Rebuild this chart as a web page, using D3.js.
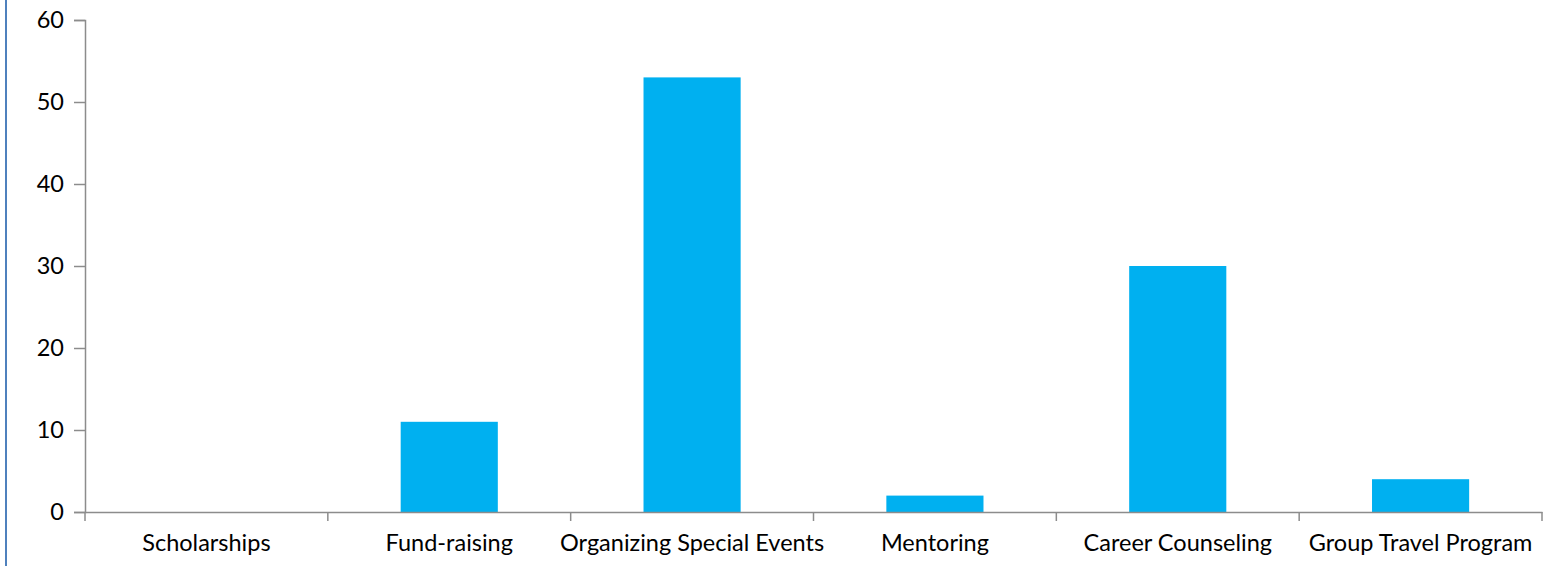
<!DOCTYPE html>
<html><head><meta charset="utf-8">
<script src="https://cdn.jsdelivr.net/npm/d3@7"></script>
<style>body{margin:0;background:#fff;}svg{display:block;font-family:Lato,"Open Sans",sans-serif;}</style>
</head><body>
<svg id="c" width="1555" height="566"></svg>
<script>
const categories = ["Scholarships","Fund-raising","Organizing Special Events","Mentoring","Career Counseling","Group Travel Program"];
const values = [0, 11, 53, 2, 30, 4];
const yTicks = [0, 10, 20, 30, 40, 50, 60];

(function(){
const svg = d3.select("#c");
const mLeft = 85, mRight = 1542, mTop = 20, mBottom = 512;
const x = d3.scaleBand().domain(categories).range([mLeft, mRight]).paddingInner(0.6).paddingOuter(0.3);
const xb = d3.scaleBand().domain(categories).range([mLeft, mRight]);
const y = d3.scaleLinear().domain([0, 60]).range([mBottom, mTop]);

// left border
svg.append("line").attr("x1",6).attr("x2",6).attr("y1",0).attr("y2",566).attr("stroke","#4f81bd").attr("stroke-width",2);

// bars
svg.selectAll("rect.bar").data(values).join("rect").attr("class","bar")
  .attr("x",(d,i)=>x(categories[i])).attr("width",x.bandwidth())
  .attr("y",d=>y(d)).attr("height",d=>Math.max(0, mBottom - y(d)))
  .attr("fill","#00b0f0");

// y axis
const ya = svg.append("g").attr("transform",`translate(${mLeft},0)`)
  .call(d3.axisLeft(y).tickValues(yTicks).tickSize(11).tickPadding(10));
ya.select(".domain").attr("stroke","#8c8c8c").attr("stroke-width",1.5);
ya.selectAll(".tick line").attr("stroke","#8c8c8c").attr("stroke-width",1.5);
ya.selectAll(".tick text").attr("font-size",23.5).attr("fill","#000").attr("font-family","Lato, sans-serif");

// x axis
const xa = svg.append("g").attr("transform",`translate(0,${mBottom})`)
  .call(d3.axisBottom(xb).tickSize(0).tickPadding(39));
xa.select(".domain").attr("stroke","#8c8c8c").attr("stroke-width",1.5);
xa.selectAll(".tick text").attr("font-size",23.5).attr("fill","#000").attr("font-family","Lato, sans-serif").attr("dy","0");
// category boundary ticks
const bounds = categories.map(c=>xb(c)).concat([mRight]);
svg.append("g").selectAll("line").data(bounds).join("line")
  .attr("x1",d=>d).attr("x2",d=>d).attr("y1",mBottom).attr("y2",mBottom+9)
  .attr("stroke","#8c8c8c").attr("stroke-width",1.5);
})();
</script>
</body></html>
